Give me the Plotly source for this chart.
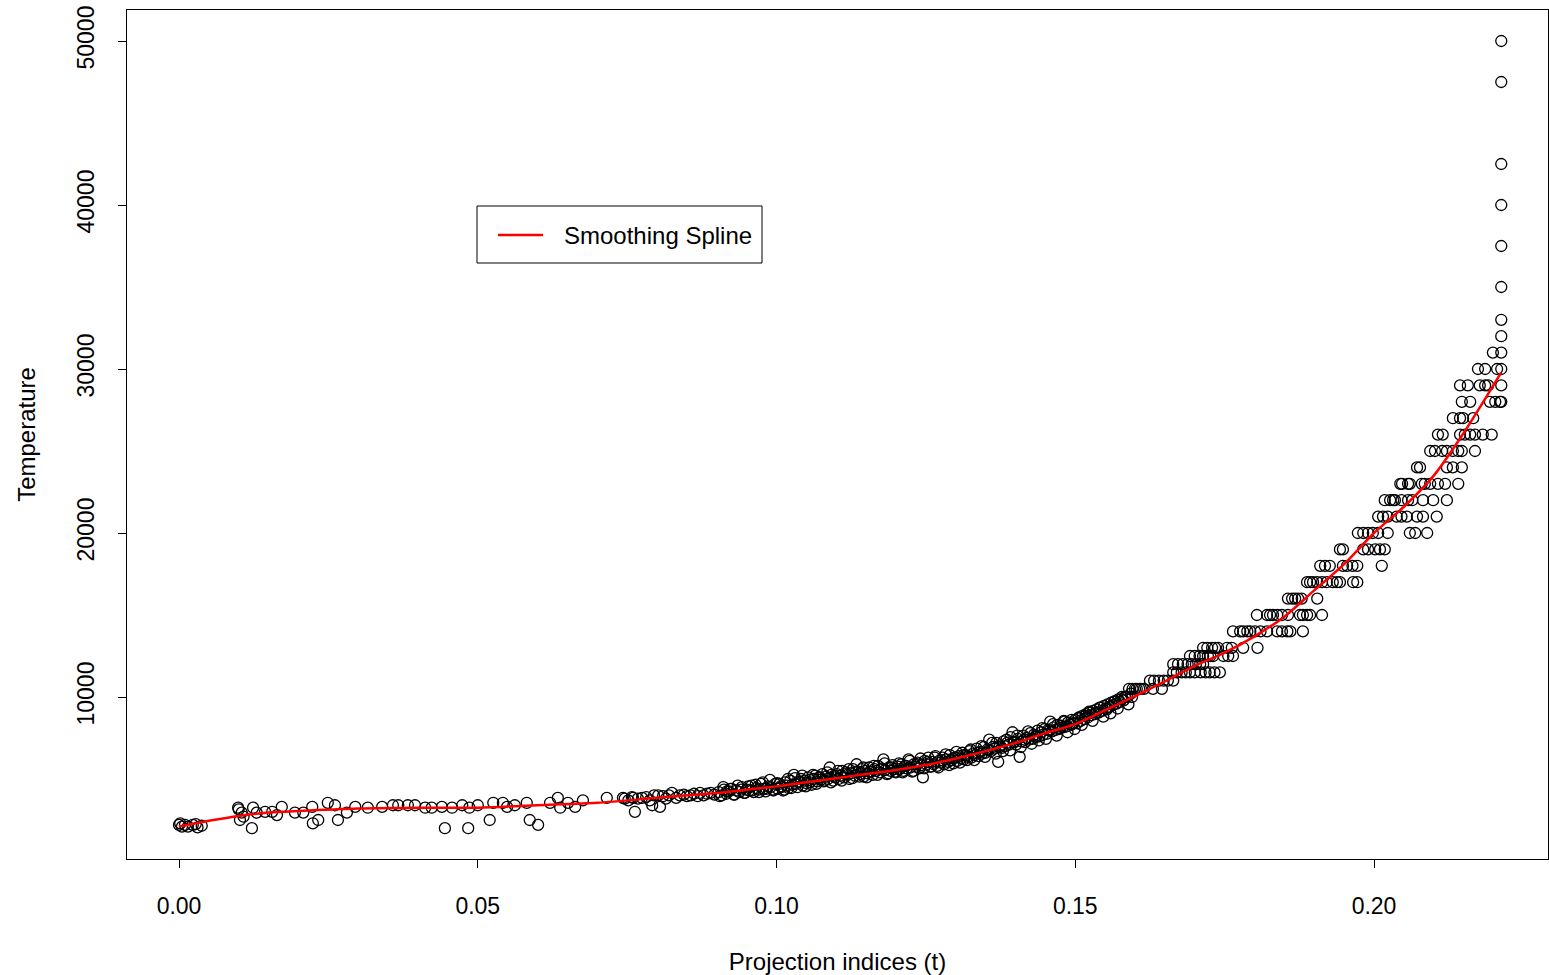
import plotly.graph_objects as go

# ---------------- data ----------------
# low-temperature part of the curve
x_low = [0.0000, 0.0002, 0.0005, 0.0010, 0.0015, 0.0023, 0.0028, 0.0031, 0.0038,
         0.0099, 0.0100, 0.0102, 0.0105, 0.0108, 0.0122, 0.0124, 0.0130, 0.0144, 0.0156, 0.0164, 0.0172,
         0.0194, 0.0208, 0.0223, 0.0224, 0.0233, 0.0249, 0.0261, 0.0266, 0.0281, 0.0295,
         0.0316, 0.0340, 0.0358, 0.0367, 0.0383, 0.0395, 0.0412, 0.0423, 0.0440, 0.0445,
         0.0457, 0.0474, 0.0484, 0.0486, 0.0500, 0.0520, 0.0526, 0.0542, 0.0549, 0.0562,
         0.0582, 0.0587, 0.0601, 0.0621, 0.0634, 0.0638, 0.0651, 0.0663, 0.0676, 0.0716,
         0.0743, 0.0746, 0.0752, 0.0758, 0.0760, 0.0763, 0.0768, 0.0775, 0.0782, 0.0788,
         0.0792, 0.0795, 0.0802, 0.0805, 0.0810, 0.0815, 0.0820, 0.0825, 0.0832, 0.0838,
         0.0845, 0.0850, 0.0856, 0.0862, 0.0868, 0.0872, 0.0878, 0.0884, 0.0890, 0.0896]
t_low = [2200, 2300, 2100, 2200, 2100, 2200, 2250, 2050, 2150,
         3250, 3150, 2500, 2950, 2700, 2000, 3250, 2950, 3000, 3000, 2800, 3300,
         2950, 2950, 3300, 2300, 2500, 3550, 3400, 2500, 2950, 3300,
         3250, 3300, 3400, 3400, 3400, 3400, 3250, 3250, 3300, 2000,
         3250, 3400, 2000, 3250, 3400, 2500, 3550, 3550, 3300, 3400,
         3550, 2500, 2200, 3550, 3850, 3250, 3550, 3300, 3700, 3850,
         3850, 3800, 3700, 3900, 3850, 3000, 3800, 3850, 3900, 3700,
         3400, 4000, 4000, 3300, 3950, 3800, 4000, 4150, 3850, 4000,
         4050, 3950, 4000, 4100, 3950, 4150, 4000, 4100, 4150, 4050]

# dense middle band
x_mid = [0.0903, 0.0908, 0.0912, 0.0916, 0.0920, 0.0925, 0.0929, 0.0933, 0.0938, 0.0942, 0.0946, 0.0950,
         0.0954, 0.0958, 0.0962, 0.0966, 0.0970, 0.0974, 0.0978, 0.0982, 0.0986, 0.0990, 0.0994, 0.0998,
         0.1002, 0.1005, 0.1008, 0.1011, 0.1014, 0.1017, 0.1020, 0.1023, 0.1026, 0.1029, 0.1032,
         0.1035, 0.1038, 0.1041, 0.1044, 0.1047, 0.1050, 0.1053, 0.1056, 0.1059, 0.1062, 0.1065,
         0.1068, 0.1071, 0.1074, 0.1077, 0.1080, 0.1083, 0.1086, 0.1089, 0.1092, 0.1095, 0.1098,
         0.1101, 0.1104, 0.1107, 0.1110, 0.1113, 0.1116, 0.1119, 0.1122, 0.1125, 0.1128, 0.1131,
         0.1134, 0.1137, 0.1140, 0.1143, 0.1146, 0.1149, 0.1152, 0.1155, 0.1158, 0.1161, 0.1164,
         0.1167, 0.1170, 0.1173, 0.1176, 0.1179, 0.1182, 0.1185, 0.1188, 0.1191, 0.1194, 0.1197,
         0.1200, 0.1203, 0.1206, 0.1209, 0.1212, 0.1215, 0.1218, 0.1221, 0.1224, 0.1227, 0.1230,
         0.1233, 0.1236, 0.1239, 0.1242, 0.1245, 0.1248, 0.1251, 0.1254, 0.1257, 0.1260, 0.1263,
         0.1266, 0.1269, 0.1272, 0.1275, 0.1278, 0.1281, 0.1284, 0.1287, 0.1290, 0.1293, 0.1296, 0.1299,
         0.1302, 0.1305, 0.1308, 0.1311, 0.1314, 0.1317, 0.1320, 0.1323, 0.1326, 0.1329, 0.1332,
         0.1335, 0.1338, 0.1341, 0.1344, 0.1347, 0.1350, 0.1353, 0.1356, 0.1359, 0.1362, 0.1365,
         0.1368, 0.1371, 0.1374, 0.1377, 0.1380, 0.1383, 0.1386, 0.1389, 0.1392, 0.1395, 0.1398,
         0.1401, 0.1404, 0.1407, 0.1410, 0.1413, 0.1416, 0.1419, 0.1422, 0.1425, 0.1428, 0.1431,
         0.1434, 0.1437, 0.1440, 0.1443, 0.1446, 0.1449, 0.1452, 0.1455, 0.1458, 0.1461, 0.1464,
         0.1467, 0.1470, 0.1473, 0.1476, 0.1479, 0.1482, 0.1485, 0.1488, 0.1491, 0.1494, 0.1497,
         0.1500, 0.1503, 0.1506, 0.1509, 0.1512, 0.1515, 0.1518, 0.1521, 0.1524, 0.1527, 0.1530,
         0.1533, 0.1536, 0.1539, 0.1542, 0.1545, 0.1548, 0.1551, 0.1554, 0.1557, 0.1560, 0.1563,
         0.1566, 0.1569, 0.1572, 0.1575, 0.1578, 0.1581, 0.1584, 0.1587, 0.1590, 0.1593, 0.1596]
t_mid = [4200, 4000, 4350, 4100, 4250, 4400, 4050, 4300, 4200, 4500, 4150, 4350,
         4300, 4600, 4200, 4450, 4350, 4700, 4400, 4250, 4550, 4500, 4350, 4700,
         4400, 4700, 4500, 4300, 4800, 4600, 4450, 4900, 4650, 5250, 4700,
         4500, 4850, 5000, 4600, 4900, 4750, 5100, 4800, 4650, 5000, 5200,
         4850, 5100, 4950, 5300, 4900, 5150, 5000, 5700, 5250, 4900, 5100,
         5300, 5000, 5200, 5500, 5100, 5400, 5250, 5000, 5350, 5600, 5200,
         5900, 5450, 5300, 5600, 5150, 5500, 5350, 5700, 5450, 5250, 5600,
         5500, 5800, 5400, 5650, 6200, 5550, 5300, 5700, 5500, 5850, 5600,
         5400, 5750, 5600, 5900, 5500, 5800, 5650, 6200, 5700, 5450, 5900,
         5750, 6000, 5650, 5850, 5100, 6100, 5900, 6300, 5750, 6050, 5900,
         6400, 5800, 6100, 6000, 6300, 5900, 6200, 6050, 6450, 6150, 5950, 6300,
         6100, 6400, 6250, 6600, 6200, 6450, 6350, 6700, 6300, 6550, 6450,
         6850, 6400, 6650, 6550, 6950, 6600, 6800, 7400, 6700, 6950, 6850,
         7200, 6050, 7050, 6900, 7300, 7000, 7200, 7100, 7550, 7850, 7250,
         7100, 7450, 6350, 7300, 7650, 7250, 7500, 7400, 7800, 7450, 7700,
         7550, 7950, 7600, 7850, 7700, 8050, 7750, 8000, 8500, 7900, 8150,
         8000, 8300, 8050, 8250, 8150, 8500, 8200, 8450, 8350, 8600, 8400,
         8600, 8400, 8750, 8550, 8850, 8650, 8950, 8750, 9050, 8900, 9150,
         8950, 9250, 9050, 9350, 9150, 9450, 9300, 9550, 9400, 9650, 9500,
         9750, 9600, 9850, 9700, 10000, 9800, 10000, 10000, 10500, 10200, 10500]

# second, wider layer of the middle band
x_band = [0.0905, 0.0911, 0.0917, 0.0923, 0.0929, 0.0935, 0.0941, 0.0947, 0.0953, 0.0959,
          0.0965, 0.0971, 0.0977, 0.0983, 0.0989, 0.0995, 0.1001, 0.1007, 0.1013, 0.1019,
          0.1025, 0.1031, 0.1037, 0.1043, 0.1049, 0.1055, 0.1061, 0.1067, 0.1073, 0.1079,
          0.1085, 0.1091, 0.1097, 0.1103, 0.1109, 0.1115, 0.1121, 0.1127, 0.1133, 0.1139,
          0.1145, 0.1151, 0.1157, 0.1163, 0.1169, 0.1175, 0.1181, 0.1187, 0.1193, 0.1199,
          0.1205, 0.1211, 0.1217, 0.1223, 0.1229, 0.1235, 0.1241, 0.1247, 0.1253, 0.1259,
          0.1265, 0.1271, 0.1277, 0.1283, 0.1289, 0.1295, 0.1301, 0.1307, 0.1313, 0.1319,
          0.1325, 0.1331, 0.1337, 0.1343, 0.1349, 0.1355, 0.1361, 0.1367, 0.1373, 0.1379,
          0.1385, 0.1391, 0.1397, 0.1403, 0.1409, 0.1415, 0.1421, 0.1427, 0.1433, 0.1439,
          0.1445, 0.1451, 0.1457, 0.1463, 0.1469, 0.1475, 0.1481, 0.1487, 0.1493, 0.1499,
          0.1505, 0.1511, 0.1517, 0.1523, 0.1529, 0.1535, 0.1541, 0.1547, 0.1553, 0.1559,
          0.1565, 0.1571, 0.1577, 0.1583, 0.1589, 0.1595]
t_band = [3950, 4500, 4250, 4400, 4050, 4600, 4350, 4150, 4550, 4300,
          4650, 4200, 4800, 4400, 4950, 4300, 4750, 4550, 4350, 5000,
          4450, 5050, 4800, 5200, 4550, 4950, 5250, 4700, 5100, 4850,
          5400, 4800, 5200, 5500, 4900, 5300, 5600, 5050, 5450, 5150,
          5700, 5100, 5450, 5800, 5250, 5600, 5950, 5350, 5700, 5450,
          5950, 5400, 5800, 6100, 5500, 5900, 6250, 5650, 6050, 5750,
          6300, 5700, 6150, 6500, 5850, 6250, 6650, 6000, 6450, 6150,
          6800, 6150, 6600, 7000, 6350, 6750, 7200, 6550, 6950, 6700,
          7400, 6750, 7250, 7650, 6950, 7400, 7900, 7150, 7600, 7350,
          8100, 7450, 7950, 8350, 7650, 8100, 8550, 7850, 8300, 8050,
          8700, 8300, 8850, 9100, 8550, 9050, 9350, 8800, 9250, 9000,
          9700, 9300, 9850, 10000, 9550, 10000]

# hot end: temperatures are recorded in discrete steps
t_levels = [10500, 11000, 11500, 12000, 12500, 13000, 14000, 15000, 16000, 17000,
            18000, 19000, 20000, 21000, 22000, 23000, 24000, 25000, 26000, 27000,
            28000, 29000, 30000, 31000, 32000, 33000, 35000, 37500, 40000, 42500,
            47500, 50000]
x_at_level = [
    [0.1600, 0.1603, 0.1607, 0.1610, 0.1615, 0.1630, 0.1645],
    [0.1625, 0.1632, 0.1640, 0.1648, 0.1655, 0.1664],
    [0.1664, 0.1670, 0.1678, 0.1685, 0.1692, 0.1700, 0.1710, 0.1718, 0.1725, 0.1733, 0.1742],
    [0.1664, 0.1672, 0.1680, 0.1688, 0.1695, 0.1702, 0.1709, 0.1714],
    [0.1692, 0.1700, 0.1708, 0.1714, 0.1722, 0.1726, 0.1731, 0.1748, 0.1756, 0.1764],
    [0.1714, 0.1721, 0.1729, 0.1734, 0.1739, 0.1754, 0.1762, 0.1781, 0.1805],
    [0.1764, 0.1776, 0.1781, 0.1788, 0.1793, 0.1801, 0.1810, 0.1821, 0.1838, 0.1846, 0.1855, 0.1860, 0.1881],
    [0.1804, 0.1821, 0.1826, 0.1831, 0.1838, 0.1846, 0.1856, 0.1876, 0.1881, 0.1888, 0.1893, 0.1913],
    [0.1856, 0.1863, 0.1868, 0.1873, 0.1879, 0.1905],
    [0.1888, 0.1893, 0.1898, 0.1905, 0.1913, 0.1921, 0.1931, 0.1938, 0.1943, 0.1965, 0.1972],
    [0.1910, 0.1918, 0.1926, 0.1948, 0.1955, 0.1964, 0.1972, 0.2013],
    [0.1943, 0.1948, 0.1982, 0.1990, 0.2002, 0.2010, 0.2018],
    [0.1973, 0.1982, 0.1990, 0.1998, 0.2007, 0.2023, 0.2060, 0.2069, 0.2089],
    [0.2007, 0.2015, 0.2023, 0.2038, 0.2046, 0.2055, 0.2072, 0.2082, 0.2105],
    [0.2018, 0.2027, 0.2032, 0.2035, 0.2046, 0.2057, 0.2064, 0.2082, 0.2099, 0.2122],
    [0.2044, 0.2047, 0.2057, 0.2060, 0.2080, 0.2085, 0.2094, 0.2107, 0.2119, 0.2141],
    [0.2072, 0.2077, 0.2122, 0.2132, 0.2147],
    [0.2094, 0.2102, 0.2114, 0.2122, 0.2132, 0.2141, 0.2147, 0.2169],
    [0.2107, 0.2115, 0.2144, 0.2152, 0.2161, 0.2169, 0.2182, 0.2197],
    [0.2132, 0.2144, 0.2149, 0.2166],
    [0.2147, 0.2161, 0.2194, 0.2203, 0.2211, 0.2213],
    [0.2144, 0.2157, 0.2177, 0.2186, 0.2191, 0.2213],
    [0.2174, 0.2186, 0.2206, 0.2213],
    [0.2199, 0.2213],
    [0.2213], [0.2213], [0.2213], [0.2213], [0.2213], [0.2213], [0.2213], [0.2213],
]

# smoothing spline fit (red curve)
spline_x = [0.000, 0.005, 0.010, 0.015, 0.020, 0.030, 0.040, 0.050, 0.060, 0.070, 0.080, 0.090,
            0.095, 0.100, 0.105, 0.110, 0.115, 0.120, 0.125, 0.130, 0.135, 0.140, 0.145, 0.150,
            0.155, 0.160, 0.165, 0.170, 0.175, 0.180, 0.185, 0.190, 0.195, 0.200, 0.205, 0.210,
            0.215, 0.2213]
spline_t = [2100, 2450, 2750, 2950, 3050, 3200, 3250, 3250, 3400, 3550, 3850, 4150,
            4350, 4550, 4800, 5050, 5300, 5550, 5850, 6250, 6700, 7200, 7800, 8350,
            9200, 10050, 10950, 11900, 12700, 13700, 14900, 16500, 18100, 20000, 21600, 23500,
            26100, 29800]

x_ticks = [0.00, 0.05, 0.10, 0.15, 0.20]
y_ticks = [10000, 20000, 30000, 40000, 50000]

# ---------------- assemble ----------------
x_high, t_high = [], []
for lvl, xs in zip(t_levels, x_at_level):
    x_high += xs
    t_high += [lvl] * len(xs)

x_all = x_low + x_mid + x_band + x_high
t_all = t_low + t_mid + t_band + t_high

FONT = "Liberation Sans, Arial, Helvetica, sans-serif"

fig = go.Figure()
fig.add_trace(go.Scatter(
    x=x_all, y=t_all, mode="markers", name="Observations", showlegend=False,
    marker=dict(symbol="circle-open", size=11, color="black", line=dict(color="black", width=1.3)),
))
fig.add_trace(go.Scatter(
    x=spline_x, y=spline_t, mode="lines", name="Smoothing Spline", showlegend=False,
    line=dict(color="#ff0000", width=2.5, shape="spline", smoothing=0.8),
))

# plot area geometry (pixels)
L, R, T, B = 127, 1, 10, 116
W = 1549 - L - R
H = 975 - T - B

def px_x(p):
    return (p - L) / W

def px_y(p):
    return (975 - B - p) / H

# legend box drawn like R's legend()
fig.add_shape(type="rect", xref="paper", yref="paper",
              x0=px_x(477), x1=px_x(762), y0=px_y(263), y1=px_y(206),
              line=dict(color="black", width=1), fillcolor="white", layer="above")
fig.add_shape(type="line", xref="paper", yref="paper",
              x0=px_x(498), x1=px_x(543), y0=px_y(235), y1=px_y(235),
              line=dict(color="#ff0000", width=2.5), layer="above")
fig.add_annotation(xref="paper", yref="paper", x=px_x(562), y=px_y(235),
                   xanchor="left", yanchor="middle", showarrow=False,
                   text="Smoothing Spline", font=dict(family=FONT, size=24, color="black"))

fig.update_layout(
    width=1549, height=975,
    margin=dict(l=L, r=R, t=T, b=B, pad=0),
    paper_bgcolor="white", plot_bgcolor="white",
    font=dict(family=FONT, size=23, color="black"),
    showlegend=False,
    xaxis=dict(
        range=[-52 / 5975, -52 / 5975 + W / 5975],
        tickmode="array", tickvals=x_ticks, ticktext=[f"{v:.2f}" for v in x_ticks],
        ticks="outside", ticklen=8, tickwidth=1, tickcolor="black",
        ticklabelstandoff=18,
        showgrid=False, zeroline=False,
        showline=True, linecolor="black", linewidth=1, mirror=True,
        title=dict(text="Projection indices (t)", font=dict(size=24), standoff=35),
        automargin=False,
    ),
    yaxis=dict(
        range=[122, 51890],
        tickmode="array", tickvals=y_ticks, ticktext=[str(v) for v in y_ticks],
        tickangle=-90,
        ticks="outside", ticklen=8, tickwidth=1, tickcolor="black",
        ticklabelstandoff=15,
        showgrid=False, zeroline=False,
        showline=True, linecolor="black", linewidth=1, mirror=True,
        title=dict(text="Temperature", font=dict(size=24), standoff=30),
        automargin=False,
    ),
)

fig.write_html("out.html", config={"displayModeBar": False},
               post_script="document.body.style.margin='0';document.body.style.overflow='hidden';")
